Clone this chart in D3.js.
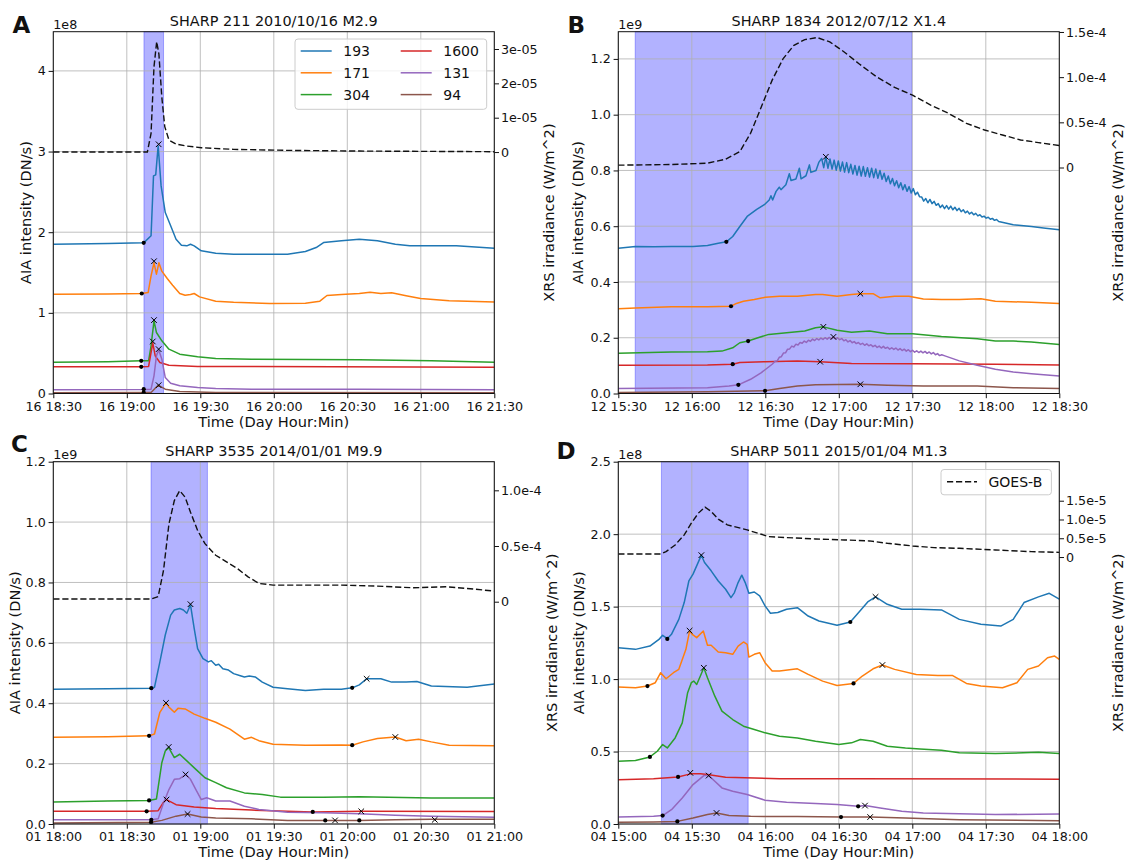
<!DOCTYPE html>
<meta charset="utf-8">
<script src="https://d3js.org/d3.v7.min.js"></script>
<style>
  body { margin: 0; background: #fff; }
  text { font-family: "DejaVu Sans", sans-serif; fill: #111; }
</style>
<div id="chart"></div>
<script>
// AIA channels, same order in every panel
var bands = ["193", "171", "304", "1600", "131", "94"];
var bandColors = ["#1f77b4", "#ff7f0e", "#2ca02c", "#d62728", "#9467bd", "#8c564b"];

// ---- panel A : SHARP 211, time in minutes after 16 18:30, AIA in 1e8, GOES in 1e-5
var aStart = "2010-10-16T18:30:00Z";
var a193 = [[0,1.851],[22.3,1.860],[36.9,1.868],[39.9,1.955],[40.9,2.698],[41.8,2.711],[42.8,3.070],[44.0,2.574],[45.7,2.244],[47.9,2.079],[50.1,1.913],[52.3,1.839],[54.5,1.831],[56.0,1.851],[57.5,1.831],[60.4,1.769],[66.3,1.740],[73.6,1.727],[95.6,1.727],[102.9,1.760],[107.3,1.810],[110.3,1.872],[117.6,1.893],[124.9,1.913],[132.3,1.893],[139.6,1.851],[145.5,1.831],[164.5,1.831],[180,1.802]];
var a171 = [[0,1.230],[22.3,1.235],[36.1,1.240],[38.7,1.252],[39.9,1.459],[41.1,1.620],[42.1,1.479],[43.1,1.620],[44.3,1.517],[46.5,1.426],[48.7,1.343],[51.6,1.240],[53.8,1.219],[56.0,1.227],[57.5,1.240],[59.7,1.198],[66.3,1.145],[73.6,1.132],[88.3,1.116],[102.9,1.120],[108.8,1.145],[111.7,1.215],[117.6,1.227],[124.9,1.240],[129.3,1.256],[133.7,1.240],[138.1,1.248],[144.0,1.211],[149.9,1.178],[161.6,1.149],[180,1.136]];
var a304 = [[0,0.388],[22.3,0.395],[35.9,0.405],[38.9,0.405],[39.9,0.591],[41.1,0.901],[42.1,0.756],[44.3,0.653],[47.2,0.550],[51.6,0.488],[58.9,0.455],[66.3,0.434],[80.9,0.426],[124.9,0.418],[154.3,0.405],[180,0.388]];
var a1600 = [[0,0.331],[35.9,0.331],[38.9,0.335],[39.9,0.508],[40.6,0.628],[41.6,0.467],[43.5,0.384],[47.2,0.351],[58.9,0.335],[180,0.326]];
var a131 = [[0,0.045],[36.9,0.050],[39.9,0.054],[41.1,0.219],[42.1,0.467],[43.0,0.541],[44.3,0.426],[45.7,0.198],[47.9,0.128],[51.6,0.095],[58.9,0.074],[66.3,0.062],[80.9,0.054],[124.9,0.054],[180,0.045]];
var a94 = [[0,0.008],[36.9,0.012],[39.9,0.012],[42.8,0.103],[45.7,0.054],[51.6,0.025],[66.3,0.012],[180,0.008]];
var aGoes = [[0,0],[38.4,0],[39.9,0.544],[41.1,2.485],[42.2,3.214],[43.1,2.854],[44.3,1.592],[45.5,0.738],[47.2,0.350],[50.1,0.233],[54.5,0.175],[60.4,0.126],[73.6,0.078],[95.6,0.049],[124.9,0.029],[180,0.010]];
var aDots = [[36.9,1.868],[36.1,1.240],[35.9,0.405],[35.9,0.331],[36.9,0.054],[36.9,0.012]];
var aCross = [[43.0,3.09],[41.1,1.64],[41.1,0.91],[40.6,0.645],[43.0,0.55],[43.0,0.103]];
var aSpan = [37, 45];

// ---- panel B : SHARP 1834, minutes after 12 15:30, AIA in 1e9, GOES in 1e-4
var bStart = "2012-07-12T15:30:00Z";
var b193Rise = [[0,0.521],[7,0.527],[14.4,0.526],[21.7,0.527],[30.5,0.527],[36.4,0.531],[40.8,0.539],[44.1,0.544],[46.7,0.563],[49.6,0.599],[52.6,0.635],[56.5,0.660],[59.6,0.677],[61.6,0.694],[62.3,0.709],[63.0,0.694],[64.4,0.725],[65.7,0.740],[66.4,0.731],[68.4,0.749],[69.8,0.788],[70.5,0.764],[72.5,0.769],[73.9,0.808],[74.6,0.770],[76.6,0.781],[78.0,0.820],[78.6,0.793],[80.7,0.800],[81.9,0.830]];
// sawtooth part, peak / trough pairs every 0.85 min from 83.0
var b193ZigT0 = 83.0, b193ZigDt = 0.85;
var b193Zig = [0.843,0.810,0.849,0.808,0.841,0.805,0.837,0.801,0.834,0.798,0.830,0.794,0.828,0.792,0.822,0.787,0.818,0.783,0.815,0.780,0.814,0.779,0.810,0.776,0.808,0.774,0.805,0.772,0.800,0.768,0.790,0.760,0.780,0.752,0.771,0.745,0.763,0.738,0.756,0.731,0.749,0.725,0.742,0.719,0.735,0.713,0.722,0.706,0.705,0.690,0.699,0.684,0.696,0.681,0.689,0.675,0.681,0.667,0.676,0.663,0.674,0.661,0.672,0.659,0.668,0.656,0.664,0.652,0.659,0.648,0.654,0.644,0.650,0.641,0.646,0.637,0.641,0.633,0.636,0.629,0.632,0.625,0.628,0.621,0.624,0.617];
var b193Tail = [[161.2,0.605],[168.6,0.599],[174.4,0.593],[180,0.587]];
var b171 = [[0,0.304],[7,0.307],[21.7,0.311],[36.4,0.311],[46.0,0.313],[48.2,0.323],[51.1,0.331],[55.5,0.337],[60.0,0.345],[65.8,0.349],[73.1,0.349],[80.5,0.355],[83.4,0.355],[89.3,0.349],[95.2,0.355],[98.8,0.358],[104.0,0.358],[106.9,0.343],[112.8,0.349],[118.6,0.349],[124.5,0.339],[131.9,0.337],[139.2,0.337],[148.0,0.340],[153.9,0.331],[168.6,0.327],[180,0.323]];
var b304 = [[0,0.144],[21.7,0.149],[36.4,0.150],[42.3,0.152],[46.7,0.164],[49.6,0.182],[53.0,0.188],[57.0,0.200],[61.4,0.212],[68.7,0.218],[76.1,0.224],[80.5,0.236],[83.7,0.239],[89.3,0.227],[95.2,0.220],[102.5,0.224],[109.8,0.214],[120.1,0.214],[131.9,0.204],[146.5,0.196],[153.9,0.188],[161.2,0.188],[168.6,0.185],[180,0.176]];
var b1600 = [[0,0.101],[36.4,0.102],[46.7,0.105],[49.6,0.111],[59.9,0.114],[73.1,0.117],[82.4,0.114],[95.2,0.108],[120.1,0.107],[153.9,0.105],[180,0.102]];
var b131Rise = [[0,0.018],[36.4,0.021],[45.2,0.027],[49.0,0.031],[54.0,0.051],[58.4,0.075],[62.8,0.105]];
// rippled part, every 0.85 min from 64.0
var b131RipT0 = 64.0, b131RipDt = 0.85;
var b131Rip = [0.116,0.117,0.130,0.132,0.145,0.146,0.159,0.160,0.170,0.167,0.177,0.174,0.183,0.180,0.188,0.183,0.191,0.187,0.195,0.190,0.197,0.192,0.199,0.194,0.200,0.195,0.201,0.196,0.203,0.196,0.200,0.193,0.197,0.189,0.193,0.185,0.190,0.182,0.186,0.179,0.183,0.176,0.180,0.173,0.178,0.171,0.175,0.168,0.173,0.165,0.170,0.163,0.169,0.162,0.166,0.159,0.164,0.158,0.163,0.156,0.161,0.154,0.159,0.152,0.157,0.150,0.155,0.148,0.153,0.147,0.152,0.146,0.151,0.144,0.149,0.142,0.147,0.139,0.143,0.136,0.139];
var b131Tail = [[133.3,0.135],[139.2,0.117],[146.5,0.101],[153.9,0.087],[161.2,0.077],[168.6,0.071],[180,0.063]];
var b94 = [[0,0.004],[36.4,0.006],[59.9,0.0095],[65.8,0.018],[73.1,0.027],[80.5,0.031],[98.8,0.033],[109.8,0.030],[124.5,0.027],[146.5,0.027],[161.2,0.021],[180,0.018]];
var bGoes = [[0,0.026],[21.7,0.033],[36.4,0.048],[43.8,0.092],[49.6,0.176],[54.0,0.379],[58.4,0.673],[62.8,0.967],[67.3,1.206],[71.7,1.353],[76.1,1.415],[81.2,1.438],[86.3,1.390],[92.2,1.279],[98.1,1.151],[105.4,1.004],[112.8,0.886],[120.1,0.801],[127.5,0.691],[134.8,0.599],[142.1,0.489],[149.5,0.415],[156.8,0.360],[164.2,0.305],[171.5,0.276],[180,0.243]];
var bDots = [[44.1,0.544],[46.0,0.313],[53.0,0.188],[46.7,0.105],[49.0,0.031],[59.9,0.0095]];
var bCross = [[84.7,0.849],[98.8,0.358],[83.7,0.239],[82.4,0.114],[87.8,0.203],[98.8,0.033]];
var bSpan = [6.9, 119.8];

// ---- panel C : SHARP 3535, minutes after 01 18:00, AIA in 1e9, GOES in 1e-4
var cStart = "2014-01-01T18:00:00Z";
var c193 = [[0,0.446],[22.3,0.448],[40.0,0.450],[41.3,0.453],[43.5,0.537],[45.7,0.626],[47.9,0.692],[49.4,0.709],[51.6,0.714],[53.1,0.709],[54.5,0.698],[56.0,0.726],[57.5,0.648],[58.9,0.581],[61.1,0.548],[63.3,0.537],[64.5,0.541],[66.3,0.526],[67.5,0.529],[69.2,0.514],[71.5,0.510],[73.6,0.498],[76.0,0.492],[78.0,0.487],[80.0,0.490],[82.4,0.487],[85.3,0.470],[89.7,0.453],[95.6,0.448],[102.9,0.442],[110.3,0.446],[117.6,0.446],[122.0,0.451],[124.9,0.461],[127.9,0.481],[133.7,0.481],[138.1,0.470],[144.0,0.470],[148.4,0.472],[154.3,0.457],[168.9,0.453],[180,0.464]];
var c171 = [[0,0.287],[22.3,0.289],[39.1,0.292],[41.3,0.298],[43.5,0.370],[46.0,0.401],[47.2,0.387],[49.4,0.370],[50.9,0.383],[53.8,0.381],[57.5,0.364],[61.9,0.350],[66.3,0.337],[72.1,0.314],[78.0,0.281],[80.9,0.287],[83.9,0.276],[89.7,0.264],[102.9,0.261],[117.6,0.262],[122.0,0.261],[126.4,0.272],[132.3,0.283],[139.6,0.288],[144.0,0.276],[149.1,0.281],[154.3,0.272],[161.6,0.261],[180,0.259]];
var c304 = [[0,0.073],[22.3,0.076],[39.1,0.078],[42.1,0.083],[44.3,0.203],[45.7,0.242],[47.1,0.253],[49.4,0.220],[51.6,0.231],[54.5,0.209],[58.2,0.181],[61.9,0.153],[66.3,0.137],[70.7,0.120],[78.0,0.103],[85.3,0.098],[92.7,0.089],[110.3,0.089],[124.9,0.090],[154.3,0.086],[180,0.086]];
var c1600 = [[0,0.042],[38.1,0.042],[42.8,0.044],[45.0,0.072],[46.2,0.081],[50.1,0.064],[57.5,0.056],[66.3,0.051],[80.9,0.046],[105.9,0.040],[125.7,0.042],[180,0.041]];
var c131 = [[0,0.014],[40.0,0.014],[42.8,0.017],[45.0,0.070],[47.2,0.114],[49.4,0.148],[51.6,0.150],[54.0,0.164],[56.0,0.148],[58.2,0.114],[60.4,0.081],[62.6,0.087],[66.3,0.076],[72.1,0.076],[78.0,0.059],[83.9,0.048],[95.6,0.039],[110.3,0.037],[124.9,0.034],[139.6,0.029],[154.3,0.026],[180,0.022]];
var c94 = [[0,0.003],[39.9,0.006],[44.3,0.012],[50.1,0.026],[54.8,0.033],[60.4,0.023],[66.3,0.020],[80.9,0.017],[95.6,0.012],[124.9,0.012],[139.6,0.014],[154.3,0.016],[180,0.016]];
var cGoes = [[0,0.024],[39.9,0.024],[42.8,0.045],[45.0,0.283],[47.2,0.699],[49.4,0.908],[51.6,0.997],[53.8,0.938],[56.0,0.804],[58.9,0.640],[61.9,0.521],[66.3,0.417],[70.7,0.357],[75.1,0.298],[79.5,0.223],[83.9,0.164],[89.7,0.149],[102.9,0.149],[117.6,0.149],[132.3,0.140],[146.9,0.125],[160.1,0.134],[168.9,0.119],[180,0.095]];
var cDots = [[40.0,0.450],[39.1,0.292],[39.1,0.078],[38.1,0.042],[40.0,0.014],[39.9,0.006],[122.0,0.451],[122.0,0.261],[105.9,0.040],[111.0,0.012],[124.9,0.012]];
var cCross = [[56.0,0.728],[46.0,0.401],[47.1,0.255],[46.2,0.081],[54.0,0.164],[54.8,0.033],[127.9,0.481],[139.6,0.288],[125.7,0.042],[115.0,0.012],[155.7,0.014]];
var cSpan = [39.9, 62.9];

// ---- panel D : SHARP 5011, minutes after 04 15:00, AIA in 1e8, GOES in 1e-5
var dStart = "2015-01-04T15:00:00Z";
var d193 = [[0,1.217],[7.0,1.205],[12.9,1.228],[16.6,1.274],[18.1,1.302],[20.0,1.279],[21.7,1.309],[24.7,1.412],[26.9,1.528],[28.8,1.677],[30.5,1.724],[32.3,1.793],[33.9,1.855],[35.2,1.804],[37.9,1.747],[40.8,1.677],[43.8,1.620],[46.0,1.562],[47.4,1.597],[48.9,1.666],[50.4,1.717],[51.8,1.666],[53.3,1.592],[55.5,1.601],[57.7,1.574],[59.9,1.505],[62.1,1.454],[65.1,1.459],[68.7,1.482],[73.1,1.493],[77.5,1.435],[81.9,1.401],[89.3,1.371],[94.7,1.394],[98.1,1.459],[101.8,1.532],[105.0,1.567],[109.8,1.516],[115.7,1.482],[123.1,1.482],[131.9,1.477],[139.2,1.412],[148.0,1.378],[156.1,1.366],[161.2,1.412],[165.6,1.528],[171.5,1.567],[175.9,1.592],[180,1.551]];
var d171 = [[0,0.945],[7.0,0.940],[11.9,0.952],[15.1,0.975],[17.3,1.044],[19.5,1.002],[22.5,1.044],[24.7,1.067],[27.6,1.205],[29.1,1.332],[30.2,1.309],[32.0,1.286],[34.7,1.332],[36.4,1.233],[37.9,1.233],[40.8,1.187],[43.8,1.182],[46.7,1.171],[48.9,1.228],[51.1,1.256],[52.6,1.240],[53.3,1.152],[55.5,1.171],[57.7,1.182],[59.9,1.113],[62.8,1.055],[65.8,1.055],[73.1,1.071],[77.5,1.032],[83.4,0.986],[89.3,0.956],[96.0,0.970],[99.6,1.021],[104.0,1.071],[107.8,1.097],[112.8,1.067],[121.6,1.032],[130.4,1.025],[136.3,1.025],[142.1,0.970],[148.0,0.952],[156.8,0.940],[162.7,0.975],[167.1,1.067],[171.5,1.090],[175.2,1.147],[178.1,1.159],[180,1.136]];
var d304 = [[0,0.433],[7.0,0.438],[12.9,0.463],[15.9,0.502],[18.1,0.548],[20.0,0.525],[23.2,0.594],[26.1,0.698],[28.3,0.906],[29.8,0.975],[30.8,0.986],[32.0,0.963],[33.5,1.021],[34.9,1.078],[36.4,1.009],[39.4,0.882],[42.3,0.779],[46.7,0.721],[51.1,0.675],[55.5,0.652],[59.9,0.629],[65.8,0.606],[73.1,0.594],[80.5,0.571],[90.0,0.548],[95.2,0.560],[98.8,0.583],[104.0,0.571],[109.8,0.537],[117.2,0.525],[123.1,0.518],[131.9,0.509],[139.2,0.491],[153.9,0.486],[171.5,0.495],[180,0.486]];
var d1600 = [[0,0.306],[14.4,0.313],[24.4,0.325],[29.4,0.346],[33.5,0.346],[36.4,0.341],[43.8,0.323],[65.8,0.313],[95.2,0.313],[180,0.309]];
var d131 = [[0,0.048],[14.4,0.053],[18.1,0.058],[21.7,0.099],[26.1,0.180],[30.5,0.272],[34.9,0.334],[36.9,0.334],[39.4,0.295],[42.3,0.249],[46.7,0.226],[52.6,0.203],[59.9,0.164],[68.7,0.150],[80.5,0.141],[89.3,0.134],[97.9,0.122],[100.7,0.127],[106.9,0.111],[115.7,0.088],[124.5,0.076],[139.2,0.071],[153.9,0.065],[180,0.069]];
var d94 = [[0,0.012],[14.4,0.014],[24.1,0.018],[30.5,0.041],[36.4,0.065],[40.1,0.076],[45.2,0.058],[54.0,0.053],[73.1,0.051],[90.9,0.048],[102.8,0.048],[117.2,0.041],[139.2,0.030],[180,0.023]];
var dGoes = [[0,0.080],[17.3,0.080],[19.5,0.143],[23.2,0.321],[26.9,0.589],[29.8,0.902],[32.7,1.170],[35.4,1.330],[37.9,1.214],[40.8,1.009],[44.5,0.857],[48.2,0.795],[52.6,0.723],[57.0,0.634],[61.4,0.545],[68.7,0.518],[80.5,0.482],[92.2,0.455],[102.5,0.429],[109.8,0.366],[120.1,0.295],[128.9,0.250],[139.2,0.232],[153.9,0.188],[168.6,0.143],[180,0.125]];
var dDots = [[20.0,1.277],[11.9,0.952],[12.9,0.463],[24.4,0.325],[18.1,0.058],[24.1,0.018],[94.7,1.394],[96.0,0.970],[97.9,0.122],[90.9,0.048]];
var dCross = [[33.9,1.855],[29.1,1.334],[34.9,1.078],[29.4,0.353],[36.9,0.334],[40.1,0.076],[105.0,1.567],[107.8,1.097],[100.7,0.127],[102.8,0.048]];
var dSpan = [17.6, 53.0];

// axis ranges and tick labels
var aYTicks = [0, 1, 2, 3, 4], aY2Ticks = [0, 1, 2, 3], aY2Labels = ["0", "1e-05", "2e-05", "3e-05"];
var bYTicks = [0, 0.2, 0.4, 0.6, 0.8, 1.0, 1.2], bY2Ticks = [0, 0.5, 1.0, 1.5], bY2Labels = ["0", "0.5e-4", "1.0e-4", "1.5e-4"];
var cYTicks = [0, 0.2, 0.4, 0.6, 0.8, 1.0, 1.2], cY2Ticks = [0, 0.5, 1.0], cY2Labels = ["0", "0.5e-4", "1.0e-4"];
var dYTicks = [0, 0.5, 1.0, 1.5, 2.0, 2.5], dY2Ticks = [0, 0.5, 1.0, 1.5], dY2Labels = ["0", "0.5e-5", "1.0e-5", "1.5e-5"];

// put the regularly sampled pieces back on the time axis
function onGrid(vals, t0, dt) {
  return vals.map(function(v, i) { return [t0 + i * dt, v]; });
}
var b193 = b193Rise.concat(onGrid(b193Zig, b193ZigT0, b193ZigDt), b193Tail);
var b131 = b131Rise.concat(onGrid(b131Rip, b131RipT0, b131RipDt), b131Tail);

var panels = [
  {letter: "A", title: "SHARP 211 2010/10/16 M2.9", start: aStart, series: [a193, a171, a304, a1600, a131, a94],
   goes: aGoes, dots: aDots, cross: aCross, span: aSpan, yDom: [0, 4.486], yTicks: aYTicks, yFmt: d3.format("d"), mult: "1e8",
   y2Dom: [-7.03, 3.504], y2Ticks: aY2Ticks, y2Labels: aY2Labels},
  {letter: "B", title: "SHARP 1834 2012/07/12 X1.4", start: bStart, series: [b193, b171, b304, b1600, b131, b94],
   goes: bGoes, dots: bDots, cross: bCross, span: bSpan, yDom: [0, 1.2976], yTicks: bYTicks, yFmt: d3.format(".1f"), mult: "1e9",
   y2Dom: [-2.501, 1.503], y2Ticks: bY2Ticks, y2Labels: bY2Labels},
  {letter: "C", title: "SHARP 3535 2014/01/01 M9.9", start: cStart, series: [c193, c171, c304, c1600, c131, c94],
   goes: cGoes, dots: cDots, cross: cCross, span: cSpan, yDom: [0, 1.2], yTicks: cYTicks, yFmt: d3.format(".1f"), mult: "1e9",
   y2Dom: [-1.996, 1.257], y2Ticks: cY2Ticks, y2Labels: cY2Labels},
  {letter: "D", title: "SHARP 5011 2015/01/04 M1.3", start: dStart, series: [d193, d171, d304, d1600, d131, d94],
   goes: dGoes, dots: dDots, cross: dCross, span: dSpan, yDom: [0, 2.5], yTicks: dYTicks, yFmt: d3.format(".1f"), mult: "1e8",
   y2Dom: [-7.11, 2.539], y2Ticks: dY2Ticks, y2Labels: dY2Labels}
];

// page layout (pixels)
var layout = [
  {left: 53.3, right: 494.3, top: 31.7, bottom: 393.5, letterX: 12.5, letterY: 33, ylabX: 31, y2labX: 553.5},
  {left: 618.3, right: 1059.3, top: 31.7, bottom: 393.5, letterX: 567.5, letterY: 33, ylabX: 583, y2labX: 1122.5},
  {left: 53.3, right: 494.3, top: 461.7, bottom: 824, letterX: 11, letterY: 452, ylabX: 19.5, y2labX: 557},
  {left: 618.3, right: 1059.3, top: 461.7, bottom: 824, letterX: 556.5, letterY: 459, ylabX: 584, y2labX: 1122.5}
];

var svg = d3.select("#chart").append("svg")
  .attr("width", 1128)
  .attr("height", 863);

var tickFont = 12.7, labelFont = 14.6;

panels.forEach(function(p, pi) {
  var L = layout[pi];
  var w = L.right - L.left, h = L.bottom - L.top;
  var t0 = new Date(p.start).getTime();
  var toDate = function(m) { return new Date(t0 + m * 60000); };

  var x = d3.scaleUtc().domain([toDate(0), toDate(180)]).range([0, w]);
  var y = d3.scaleLinear().domain(p.yDom).range([h, 0]);
  var y2 = d3.scaleLinear().domain(p.y2Dom).range([h, 0]);
  var xTicks = x.ticks(d3.utcMinute.every(30));

  var g = svg.append("g").attr("transform", "translate(" + L.left + "," + L.top + ")");

  g.append("clipPath").attr("id", "clip" + pi)
    .append("rect").attr("width", w).attr("height", h);

  // flare window
  g.append("rect")
    .attr("x", x(toDate(p.span[0])))
    .attr("y", 0)
    .attr("width", x(toDate(p.span[1])) - x(toDate(p.span[0])))
    .attr("height", h)
    .attr("fill", "#0000ff").attr("fill-opacity", 0.3)
    .attr("stroke", "#0000ff").attr("stroke-opacity", 0.3);

  // grid
  g.append("g").selectAll("line").data(xTicks).enter().append("line")
    .attr("x1", d => x(d)).attr("x2", d => x(d)).attr("y1", 0).attr("y2", h)
    .attr("stroke", "#b0b0b0").attr("stroke-opacity", 0.8).attr("stroke-width", 1);
  g.append("g").selectAll("line").data(p.yTicks).enter().append("line")
    .attr("x1", 0).attr("x2", w).attr("y1", d => y(d)).attr("y2", d => y(d))
    .attr("stroke", "#b0b0b0").attr("stroke-opacity", 0.8).attr("stroke-width", 1);

  var plot = g.append("g").attr("clip-path", "url(#clip" + pi + ")");

  var line = d3.line().x(d => x(toDate(d[0]))).y(d => y(d[1]));
  p.series.forEach(function(s, i) {
    plot.append("path").datum(s)
      .attr("fill", "none")
      .attr("stroke", bandColors[i])
      .attr("stroke-width", 1.5)
      .attr("stroke-linejoin", "round")
      .attr("d", line);
  });

  // onset dots and peak crosses
  plot.append("g").selectAll("circle").data(p.dots).enter().append("circle")
    .attr("cx", d => x(toDate(d[0]))).attr("cy", d => y(d[1]))
    .attr("r", 2.1).attr("fill", "#000");
  plot.append("g").selectAll("path").data(p.cross).enter().append("path")
    .attr("transform", d => "translate(" + x(toDate(d[0])) + "," + y(d[1]) + ")")
    .attr("d", "M-2.8,-2.8L2.8,2.8M-2.8,2.8L2.8,-2.8")
    .attr("stroke", "#000").attr("stroke-width", 1).attr("fill", "none");

  // GOES on the twin axis
  plot.append("path").datum(p.goes)
    .attr("fill", "none")
    .attr("stroke", "#111")
    .attr("stroke-width", 1.4)
    .attr("stroke-dasharray", "6.2,2.8")
    .attr("d", d3.line().x(d => x(toDate(d[0]))).y(d => y2(d[1])));

  // axes
  var xa = g.append("g").attr("transform", "translate(0," + h + ")")
    .call(d3.axisBottom(x).tickValues(xTicks).tickFormat(d3.utcFormat("%d %H:%M")).tickSize(4.7).tickPadding(3.3));
  var ya = g.append("g")
    .call(d3.axisLeft(y).tickValues(p.yTicks).tickFormat(p.yFmt).tickSize(4.7).tickPadding(2.8));
  var y2a = g.append("g").attr("transform", "translate(" + w + ",0)")
    .call(d3.axisRight(y2).tickValues(p.y2Ticks).tickFormat((d, i) => p.y2Labels[i]).tickSize(4.7).tickPadding(2));
  [xa, ya, y2a].forEach(function(a) {
    a.select(".domain").remove();
    a.selectAll("line").attr("stroke", "#111").attr("stroke-width", 1);
    a.selectAll("text").attr("font-size", tickFont).attr("font-family", "DejaVu Sans").attr("fill", "#111");
  });

  g.append("rect").attr("width", w).attr("height", h)
    .attr("fill", "none").attr("stroke", "#111").attr("stroke-width", 1);

  // texts
  g.append("text").attr("x", 0).attr("y", -2.4).attr("font-size", tickFont).text(p.mult);
  g.append("text").attr("x", w / 2).attr("y", -5.7).attr("text-anchor", "middle")
    .attr("font-size", 14.4).text(p.title);
  g.append("text").attr("x", w / 2).attr("y", h + 33.5).attr("text-anchor", "middle")
    .attr("font-size", labelFont).text("Time (Day Hour:Min)");

  svg.append("text")
    .attr("transform", "translate(" + L.ylabX + "," + (L.top + h / 2) + ") rotate(-90)")
    .attr("text-anchor", "middle").attr("font-size", labelFont).text("AIA intensity (DN/s)");
  svg.append("text")
    .attr("transform", "translate(" + L.y2labX + "," + (L.top + h / 2) + ") rotate(-90)")
    .attr("text-anchor", "middle").attr("font-size", labelFont).text("XRS irradiance (W/m^2)");

  svg.append("text").attr("x", L.letterX).attr("y", L.letterY)
    .attr("font-size", 23).attr("font-weight", "bold").attr("fill", "#000").text(p.letter);
});

// legend of AIA channels (panel A)
var legA = svg.append("g");
legA.append("rect").attr("x", 295).attr("y", 39).attr("width", 191.7).attr("height", 70.3)
  .attr("rx", 3).attr("fill", "#fff").attr("fill-opacity", 0.8).attr("stroke", "#cccccc");
bands.forEach(function(b, i) {
  var col = Math.floor(i / 3), row = i % 3;
  var lx = 300.7 + col * 100, ly = 51 + row * 21.8;
  legA.append("line").attr("x1", lx).attr("x2", lx + 31).attr("y1", ly).attr("y2", ly)
    .attr("stroke", bandColors[i]).attr("stroke-width", 1.5);
  legA.append("text").attr("x", lx + 42.6).attr("y", ly + 5.1).attr("font-size", 14).text(b);
});

// legend of GOES (panel D)
var legD = svg.append("g");
legD.append("rect").attr("x", 941).attr("y", 469.5).attr("width", 110.4).attr("height", 25.3)
  .attr("rx", 3).attr("fill", "#fff").attr("fill-opacity", 0.8).attr("stroke", "#cccccc");
legD.append("line").attr("x1", 947).attr("x2", 977).attr("y1", 481.7).attr("y2", 481.7)
  .attr("stroke", "#111").attr("stroke-width", 1.4).attr("stroke-dasharray", "6.2,2.8");
legD.append("text").attr("x", 988.5).attr("y", 486.8).attr("font-size", 14).text("GOES-B");
</script>
